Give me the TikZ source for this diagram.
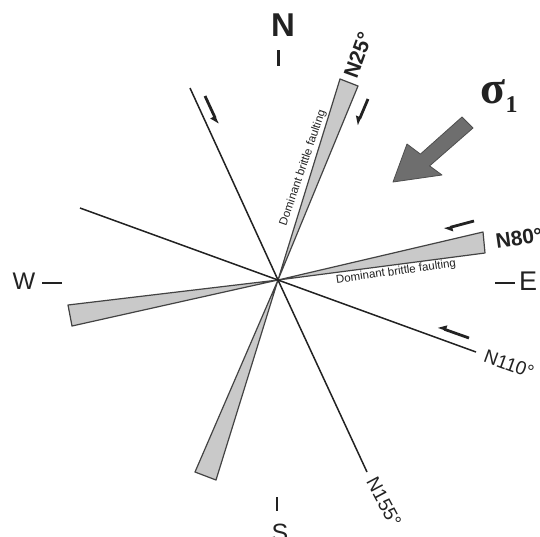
\documentclass[tikz,border=0pt]{standalone}
\usepackage{fontspec}
\setmainfont{Liberation Sans}
\newfontfamily\serifbold{Liberation Serif}
\usetikzlibrary{arrows.meta}
\definecolor{ink}{HTML}{222222}
\definecolor{wedgefill}{HTML}{C9C9C9}
\definecolor{bigarrow}{HTML}{6E6E6E}
\tikzset{
  wedge/.style={fill=wedgefill, draw=ink!85, line width=1.2pt, line join=round},
  fault/.style={draw=ink, line width=1.5pt},
  slip/.style={draw=ink, line width=2.8pt, -{Triangle[harpoon,length=7pt,width=9pt]}},
  slipswap/.style={draw=ink, line width=2.8pt, -{Triangle[harpoon,swap,length=7pt,width=9pt]}},
  tick/.style={draw=ink, line width=2pt},
  lbl/.style={inner sep=0pt, text=ink},
}
\begin{document}
\begin{tikzpicture}[x=1pt,y=-1pt]
\useasboundingbox[fill=white] (0,0) rectangle (540,536);
\coordinate (O) at (278,280);
% wedges
\coordinate (a1) at (340,79);  \coordinate (a2) at (358,86);
\coordinate (b1) at (483,232); \coordinate (b2) at (485,253);
\coordinate (c1) at (68,305);  \coordinate (c2) at (72,326);
\coordinate (d1) at (195,472); \coordinate (d2) at (216,480);
\draw[wedge] (O) -- (a1) -- (a2) -- cycle;
\draw[wedge] (O) -- (b1) -- (b2) -- cycle;
\draw[wedge] (O) -- (c1) -- (c2) -- cycle;
\draw[wedge] (O) -- (d1) -- (d2) -- cycle;
% fault lines
\coordinate (f1) at (190,88);  \coordinate (f2) at (367,472);
\coordinate (g1) at (80,208);  \coordinate (g2) at (476,352);
\draw[fault] (f1) -- (O) -- (f2);
\draw[fault] (g1) -- (O) -- (g2);
% slip arrows
\coordinate (s1a) at (205,96);  \coordinate (s1b) at (218,124);
\coordinate (s2a) at (368,99);  \coordinate (s2b) at (357,125);
\coordinate (s3a) at (474,221); \coordinate (s3b) at (444,229);
\coordinate (s4a) at (469,338); \coordinate (s4b) at (438,327);
\draw[slipswap] (s1a) -- (s1b);
\draw[slipswap] (s2a) -- (s2b);
\draw[slip] (s3a) -- (s3b);
\draw[slipswap] (s4a) -- (s4b);
% big sigma arrow
\draw[fill=bigarrow, draw=ink!80, line width=0.8pt, line join=round]
  (462,117) -- (473,128) -- (429.6,165.9) -- (442,175) -- (393,182)
  -- (407,144) -- (420.4,154.1) -- cycle;
\node[lbl, font=\serifbold\bfseries\fontsize{46}{46}\selectfont] (sig) at (499,96)
  {σ\raisebox{-9pt}{\fontsize{24}{24}\selectfont 1}};
% compass
\node[lbl, font=\bfseries\fontsize{33}{33}\selectfont] (N) at (283,25) {N};
\draw[tick, line width=3pt] (278,50) -- (278,66);
\node[lbl, font=\fontsize{25}{25}\selectfont, anchor=north] (S) at (280,524) {S};
\draw[tick] (277,497) -- (277,511);
\node[lbl, font=\fontsize{24}{24}\selectfont] (W) at (24,281) {W};
\draw[tick] (42,283) -- (62,283);
\node[lbl, font=\fontsize{27}{27}\selectfont] (E) at (528,281) {E};
\draw[tick] (495,283) -- (515,283);
% orientation labels
\node[lbl, font=\bfseries\fontsize{21}{21}\selectfont, rotate=70] (n25) at (358,55) {N25°};
\node[lbl, font=\bfseries\fontsize{21}{21}\selectfont, rotate=8] (n80) at (519,238) {N80°};
\node[lbl, font=\fontsize{19}{19}\selectfont, rotate=-20] (n110) at (509,364) {N110°};
\node[lbl, font=\fontsize{19}{19}\selectfont, rotate=-62] (n155) at (384,502) {N155°};
% dominant faulting labels
\node[lbl, font=\fontsize{11.5}{11.5}\selectfont, rotate=71] (dom1) at (303,168) {Dominant brittle faulting};
\node[lbl, font=\fontsize{11.5}{11.5}\selectfont, rotate=8] (dom2) at (396,272) {Dominant brittle faulting};
\end{tikzpicture}
\end{document}
